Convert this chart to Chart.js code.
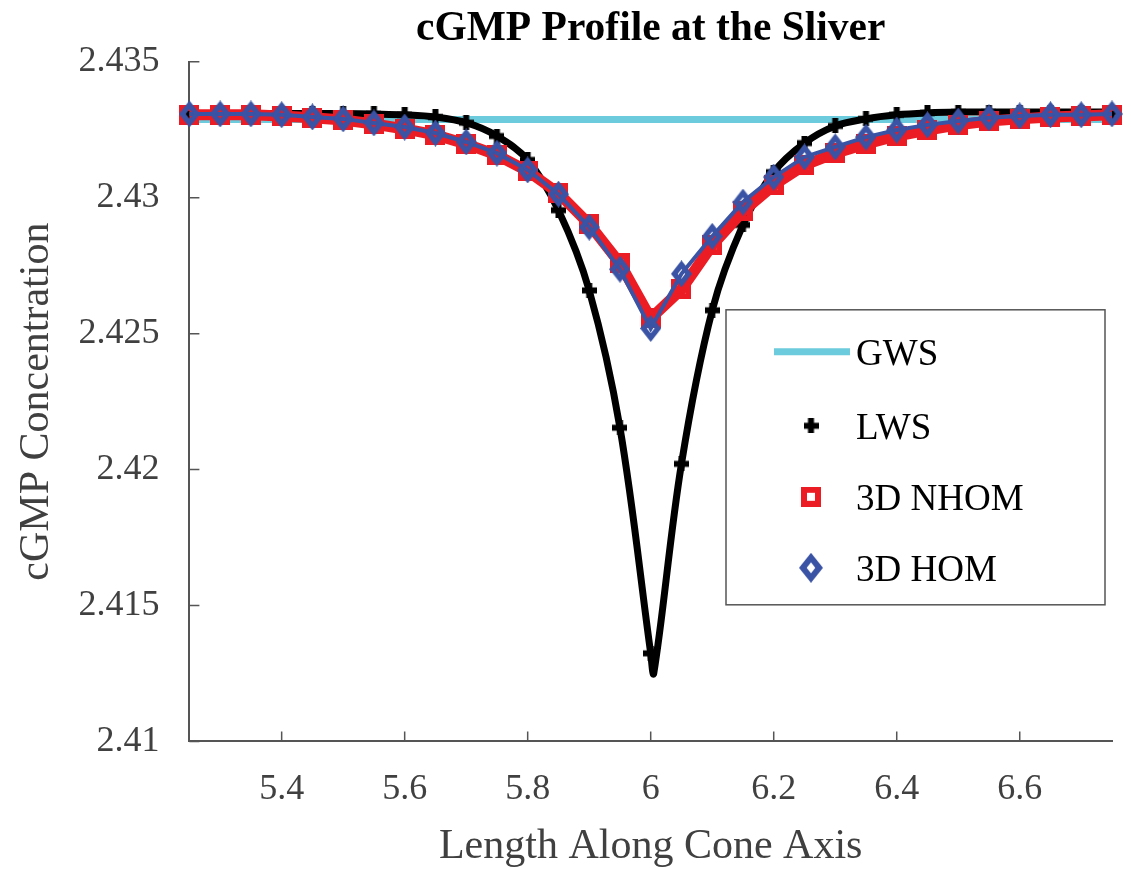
<!DOCTYPE html>
<html>
<head>
<meta charset="utf-8">
<title>cGMP Profile at the Sliver</title>
<script src="https://cdn.jsdelivr.net/npm/chart.js@4.4.1/dist/chart.umd.min.js"></script>
<style>
  html, body { margin: 0; padding: 0; background: #fff; }
  #wrap { width: 1131px; height: 870px; }
</style>
</head>
<body>
<div id="wrap"><canvas id="chart" width="1131" height="870"></canvas></div>
<script>
// data
const xPoints = [5.25, 5.3, 5.35, 5.4, 5.45, 5.5, 5.55, 5.6, 5.65, 5.7, 5.75, 5.8, 5.85, 5.9, 5.95,
  6.0, 6.05, 6.1, 6.15, 6.2, 6.25, 6.3, 6.35, 6.4, 6.45, 6.5, 6.55, 6.6, 6.65, 6.7, 6.75];
const xTicks = [5.4, 5.6, 5.8, 6, 6.2, 6.4, 6.6];
const yTicks = [2.41, 2.415, 2.42, 2.425, 2.43, 2.435];

const gwsX = [5.25, 6.75];
const gwsY = [2.43288, 2.43288];

const lwsX = [5.25, 5.3, 5.35, 5.4, 5.45, 5.5, 5.55, 5.6, 5.65, 5.7, 5.75, 5.8, 5.85, 5.9, 5.95,
  6.0, 6.005, 6.05, 6.1, 6.15, 6.2, 6.25, 6.3, 6.35, 6.4, 6.45, 6.5, 6.55, 6.6, 6.65, 6.7, 6.75];
const lwsY = [2.4331, 2.4331, 2.4331, 2.4331, 2.4331, 2.4331, 2.43308, 2.43305, 2.43297, 2.43276,
  2.43227, 2.43139, 2.42954, 2.42659, 2.42154, 2.41324, 2.41251, 2.42021, 2.42586, 2.429,
  2.43094, 2.43201, 2.43264, 2.4329, 2.43305, 2.43312, 2.43315, 2.43315, 2.43315, 2.43315,
  2.43315, 2.43315];
// marker only on the 0.05 grid
const lwsMarked = lwsX.map(v => Math.abs(v * 20 - Math.round(v * 20)) < 1e-6);

const nhomY = [2.43305, 2.43305, 2.43305, 2.43301, 2.43294, 2.43286, 2.43271, 2.43253, 2.43231,
  2.43198, 2.43157, 2.43098, 2.43017, 2.42903, 2.42759, 2.42556, 2.42663, 2.42825, 2.4295,
  2.43046, 2.4312, 2.43164, 2.43198, 2.43227, 2.43249, 2.43268, 2.43282, 2.4329, 2.43297,
  2.43301, 2.43305];
const homY = [2.43308, 2.43308, 2.43308, 2.43305, 2.43297, 2.4329, 2.43275, 2.4326, 2.43238,
  2.43205, 2.43164, 2.43102, 2.43013, 2.42892, 2.42737, 2.42519, 2.4272, 2.42858, 2.42984,
  2.43076, 2.4315, 2.43187, 2.43223, 2.43249, 2.43268, 2.43282, 2.43294, 2.43301, 2.43305,
  2.43305, 2.43308];

const seriesNames = ['GWS', 'LWS', '3D NHOM', '3D HOM'];

const CYAN = '#6ccbdc';
const RED = '#ec1c24';
const BLUE = '#3a53a4';
const SERIF = "'Liberation Serif', 'Times New Roman', serif";
const GREY = '#404040';

// hand made marker images
function makeMarker(kind, color, scale) {
  const c = document.createElement('canvas');
  const g = c.getContext('2d');
  if (kind === 'plus') {
    const s = Math.round(15 * scale), t = Math.round(6 * scale);
    c.width = s; c.height = s;
    g.fillStyle = color;
    g.fillRect(0, (s - t) / 2, s, t);
    g.fillRect((s - t) / 2, 0, t, s);
  } else if (kind === 'square') {
    const s = Math.round(20 * scale), t = Math.round(6 * scale);
    c.width = s; c.height = s;
    g.fillStyle = color;
    g.fillRect(0, 0, s, s);
    g.clearRect(t, t, s - 2 * t, s - 2 * t);
  } else {
    const w = Math.round(21 * scale), h = Math.round(27 * scale);
    c.width = w; c.height = h;
    const diamond = (k) => {
      g.beginPath();
      g.moveTo(w / 2, h / 2 - k * h / 2);
      g.lineTo(w / 2 + k * w / 2, h / 2);
      g.lineTo(w / 2, h / 2 + k * h / 2);
      g.lineTo(w / 2 - k * w / 2, h / 2);
      g.closePath();
    };
    g.fillStyle = color;
    diamond(1);
    g.fill();
    g.globalCompositeOperation = 'destination-out';
    diamond(0.36);
    g.fill();
  }
  return c;
}

const plusMark = makeMarker('plus', '#000', 1);
const squareMark = makeMarker('square', RED, 1);
const diamondMark = makeMarker('diamond', BLUE, 1);

const toXY = (xs, ys) => xs.map((x, i) => ({ x: x, y: ys[i] }));

// tick marks pointing into the plot
const innerTicks = {
  id: 'innerTicks',
  beforeDatasetsDraw(chart) {
    const { ctx, chartArea: ca, scales } = chart;
    ctx.save();
    ctx.strokeStyle = '#555';
    ctx.lineWidth = 1.5;
    ctx.beginPath();
    scales.x.ticks.forEach(t => {
      const px = scales.x.getPixelForValue(t.value);
      ctx.moveTo(px, ca.bottom);
      ctx.lineTo(px, ca.bottom - 10);
    });
    scales.y.ticks.forEach(t => {
      const py = scales.y.getPixelForValue(t.value);
      ctx.moveTo(ca.left, py);
      ctx.lineTo(ca.left + 10, py);
    });
    ctx.stroke();
    ctx.restore();
  }
};

// boxed legend sitting inside the plot
const legendBox = {
  id: 'legendBox',
  afterDraw(chart) {
    const { ctx, chartArea: ca } = chart;
    const w = 379, h = 295;
    const left = ca.right - 7 - w, top = ca.top + 248;
    const rows = [42, 116, 187, 258];
    const symX = left + 85, textX = left + 130;
    ctx.save();
    ctx.fillStyle = '#fff';
    ctx.fillRect(left, top, w, h);
    ctx.strokeStyle = '#555';
    ctx.lineWidth = 1.5;
    ctx.strokeRect(left, top, w, h);

    ctx.strokeStyle = CYAN;
    ctx.lineWidth = 7;
    ctx.beginPath();
    ctx.moveTo(left + 48, top + rows[0]);
    ctx.lineTo(left + 124, top + rows[0]);
    ctx.stroke();

    const marks = [null, plusMark, makeMarker('square', RED, 1.0), makeMarker('diamond', BLUE, 1.12)];
    marks.forEach((m, i) => {
      if (!m) return;
      ctx.drawImage(m, symX - m.width / 2, top + rows[i] - m.height / 2);
    });

    ctx.fillStyle = '#000';
    ctx.font = '37px ' + SERIF;
    ctx.textBaseline = 'middle';
    ctx.textAlign = 'left';
    seriesNames.forEach((name, i) => {
      ctx.fillText(name, textX, top + rows[i] + 3);
    });
    ctx.restore();
  }
};

const ctx = document.getElementById('chart').getContext('2d');
new Chart(ctx, {
  type: 'line',
  data: {
    datasets: [
      {
        label: seriesNames[0],
        data: toXY(gwsX, gwsY),
        borderColor: CYAN,
        borderWidth: 7,
        pointRadius: 0,
        tension: 0,
        order: 4,
        clip: false
      },
      {
        label: seriesNames[1],
        data: toXY(lwsX, lwsY),
        borderColor: '#000',
        borderWidth: 7,
        pointStyle: plusMark,
        pointRadius: lwsMarked.map(m => (m ? 6 : 0)),
        tension: 0.35,
        order: 3,
        clip: false
      },
      {
        label: seriesNames[2],
        data: toXY(xPoints, nhomY),
        borderColor: RED,
        borderWidth: 11,
        pointStyle: squareMark,
        pointRadius: 8,
        tension: 0,
        order: 2,
        clip: false
      },
      {
        label: seriesNames[3],
        data: toXY(xPoints, homY),
        borderColor: BLUE,
        borderWidth: 4,
        pointStyle: diamondMark,
        pointRadius: 9,
        tension: 0,
        order: 1,
        clip: false
      }
    ]
  },
  options: {
    responsive: false,
    animation: false,
    events: [],
    layout: { padding: { left: 0, right: 18, top: 0, bottom: 0 } },
    plugins: {
      legend: { display: false },
      tooltip: { enabled: false },
      title: {
        display: true,
        text: 'cGMP Profile at the Sliver',
        color: '#000',
        fullSize: false,
        font: { family: SERIF, size: 41.5, weight: 'bold', lineHeight: 1.2 },
        padding: { top: 4, bottom: 8 }
      }
    },
    scales: {
      x: {
        type: 'linear',
        min: 5.25,
        max: 6.75,
        afterBuildTicks: s => { s.ticks = xTicks.map(v => ({ value: v })); },
        ticks: {
          padding: 27,
          color: GREY,
          font: { family: SERIF, size: 36, lineHeight: 1.2 },
          callback: v => String(parseFloat(v.toFixed(2)))
        },
        grid: { display: true, drawOnChartArea: false, drawTicks: false },
        border: { display: true, color: '#555', width: 2 },
        title: {
          display: true,
          text: 'Length Along Cone Axis',
          color: GREY,
          font: { family: SERIF, size: 42, lineHeight: 1.2 },
          padding: { top: -17, bottom: -2 }
        }
      },
      y: {
        type: 'linear',
        min: 2.41,
        max: 2.435,
        afterBuildTicks: s => { s.ticks = yTicks.map(v => ({ value: v })); },
        ticks: {
          padding: 30,
          color: GREY,
          font: { family: SERIF, size: 36, lineHeight: 1.2 },
          callback: v => String(parseFloat(v.toFixed(3)))
        },
        grid: { display: true, drawOnChartArea: false, drawTicks: false },
        border: { display: true, color: '#555', width: 2 },
        title: {
          display: true,
          text: 'cGMP Concentration',
          color: GREY,
          font: { family: SERIF, size: 42, lineHeight: 1.2 },
          padding: { top: 12, bottom: -14 }
        }
      }
    }
  },
  plugins: [innerTicks, legendBox]
});
</script>
</body>
</html>
